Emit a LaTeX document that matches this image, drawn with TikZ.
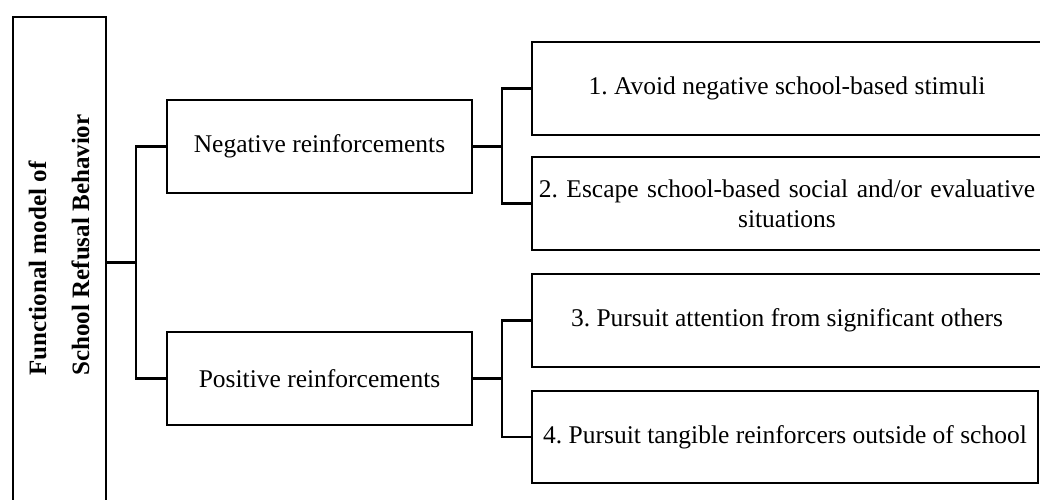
\documentclass[tikz,border=0pt]{standalone}
\usepackage{fontspec}
\setmainfont{Liberation Serif}
\frenchspacing
\usetikzlibrary{calc}

\tikzset{
  box/.style={draw,line width=2.2pt,outer sep=0pt,inner sep=2pt,anchor=north west,align=center,font=\fontsize{25.5}{30}\selectfont},
  link/.style={line width=2.2pt}
}

\begin{document}
\begin{tikzpicture}[x=1pt,y=-1pt]
\clip (0,0) rectangle (1040,499);
\node[box,minimum width=93pt,minimum height=510pt] (root) at (13,17) {};
\node[rotate=90,align=left,font=\bfseries\fontsize{25}{43}\selectfont] (title) at (59,245) {Functional model of\\School Refusal Behavior};
\node[box,minimum width=305pt,minimum height=93pt] (neg) at (167,100) {Negative reinforcements};
\node[box,minimum width=305pt,minimum height=93pt] (pos) at (167,332) {Positive reinforcements};
\node[box,minimum width=510pt,minimum height=93pt] (avoid) at (532,42) {1. Avoid negative school-based stimuli};
\node[box,minimum width=510pt,minimum height=93pt,text width=505pt] (escape) at (532,157) {2. Escape school-based social and/or evaluative\\situations};
\node[box,minimum width=510pt,minimum height=93pt] (attention) at (532,274) {3. Pursuit attention from significant others};
\node[box,minimum width=506pt,minimum height=92pt] (tangible) at (532,391) {4. Pursuit tangible reinforcers outside of school};
\coordinate (split) at ($(neg.west)!.5!(pos.west)$);
% root to the two kinds
\draw[link] (root.east |- split) -- ++(30,0);
\draw[link] (neg.west) -- ++(-31,0) |- (pos.west);
% negative
\draw[link] (neg.east) -- ++(30,0);
\draw[link] (avoid.west) -- ++(-30,0) |- (escape.west);
% positive
\draw[link] (pos.east) -- ++(30,0);
\draw[link] (attention.west) -- ++(-30,0) |- (tangible.west);
\end{tikzpicture}
\end{document}
